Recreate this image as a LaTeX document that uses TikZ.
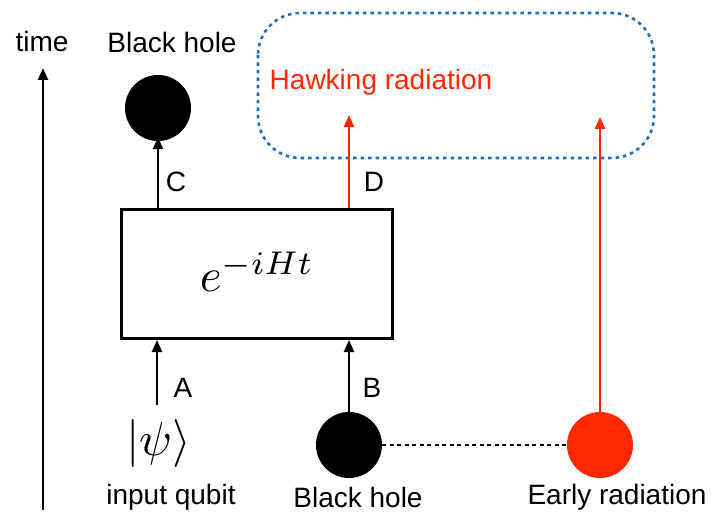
\documentclass[tikz,border=0pt]{standalone}
\usepackage{fontspec}
\setmainfont{Liberation Sans}
\usetikzlibrary{arrows.meta}
\definecolor{hawkred}{RGB}{255,40,0}
\definecolor{boxblue}{RGB}{30,110,190}
\tikzset{
  lbl/.style={inner sep=0pt, font=\fontsize{28}{31}\selectfont},
  mathlbl/.style={inner sep=0pt},
  arr/.style={line width=2.4pt, -{Triangle[width=10pt,length=12pt]}},
  ball/.style={circle, minimum size=66pt, inner sep=0pt},
}
\begin{document}
\begin{tikzpicture}[x=1pt,y=-1pt]
\useasboundingbox (0,0) rectangle (711,518);
% time axis
\node[lbl] (time) at (42,41) {time};
\coordinate (t0) at (43,510);
\coordinate (t1) at (43,68);
\draw[arr] (t0) -- (t1);
% box
\node[draw, line width=3pt, minimum width=271pt, minimum height=129pt, inner sep=0pt] (U) at (257,274) {};
\node[mathlbl] (Ut) at (257,272) {\scalebox{4.7}{$e^{-iHt}$}};
% top black hole
\node[lbl] (bhtop) at (172,42) {Black hole};
\node[ball, fill=black] (C) at (158,108) {};
\draw[arr] (U.north -| C) -- ([yshift=4pt]C.south);
\node[lbl] (Clbl) at (176,182) {C};
% Hawking radiation region
\draw[boxblue, line width=2.6pt, dash pattern=on 3.5pt off 4pt, rounded corners=42pt] (258,13) rectangle (654,158);
\node[lbl, text=hawkred] (hawk) at (381,82) {Hawking radiation};
\coordinate (Dtip) at (349,115);
\draw[arr, hawkred] (U.north -| Dtip) -- (Dtip);
\node[lbl] (Dlbl) at (374,182) {D};
% inputs
\node[mathlbl] (psi) at (159,443) {\scalebox{4.8}{$|\psi\rangle$}};
\node[lbl] (inq) at (171,497) {input qubit};
\coordinate (Abot) at (157,405);
\draw[arr] (Abot) -- (U.south -| Abot);
\node[lbl] (Albl) at (183,388) {A};
\node[ball, fill=black] (B) at (349,445) {};
\node[lbl] (bhbot) at (358,497) {Black hole};
\draw[arr] (B.north) -- (U.south -| B);
\node[lbl] (Blbl) at (372,388) {B};
% early radiation
\node[ball, fill=hawkred] (E) at (600,445) {};
\node[lbl] (early) at (617,497) {Early radiation};
\coordinate (Etip) at (600,117);
\draw[arr, hawkred] (E.north) -- (Etip);
\draw[line width=2pt, dash pattern=on 4pt off 3.5pt] (B.east) -- (E.west);
\end{tikzpicture}
\end{document}
